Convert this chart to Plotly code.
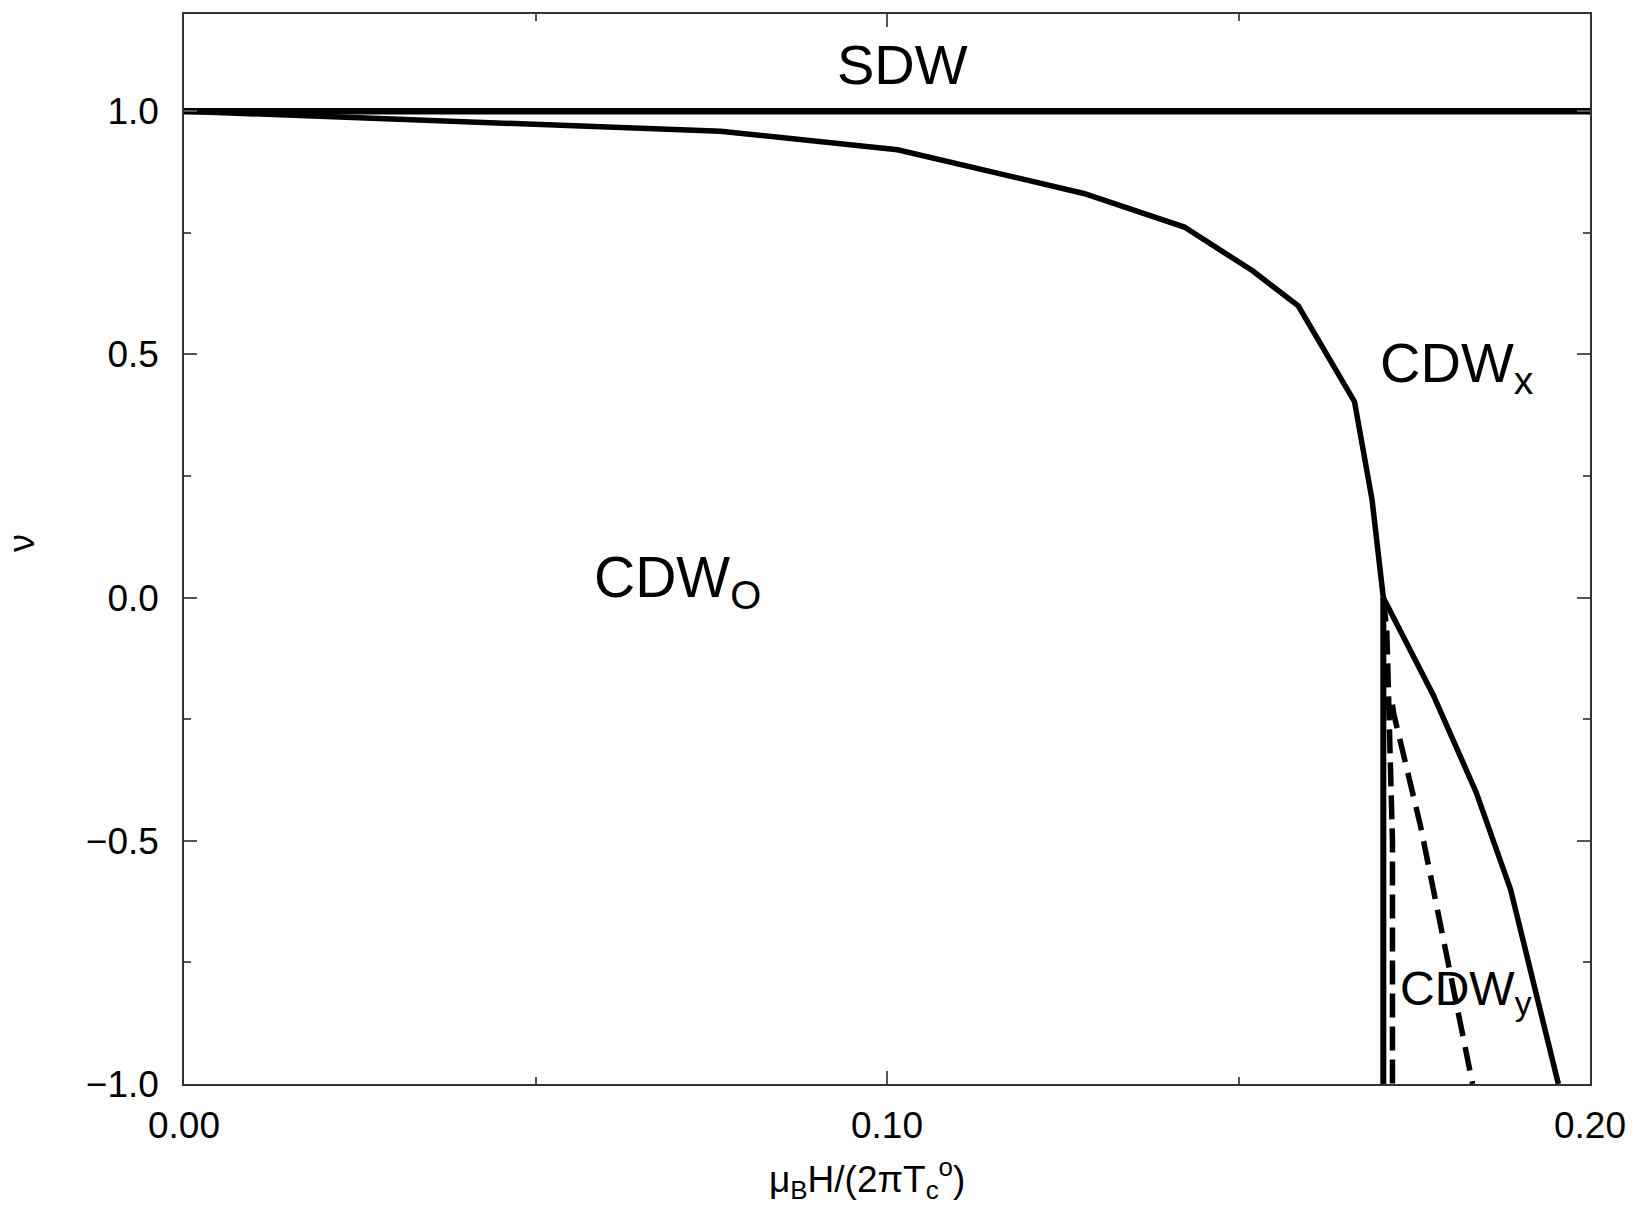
import plotly.graph_objects as go

# Phase boundary CDW_O / SDW-CDW_x (upper solid curve)
upper_x = [0.0, 0.0763, 0.1015, 0.128, 0.1423, 0.152, 0.1585, 0.1665, 0.169, 0.1706]
upper_y = [1.0, 0.959, 0.921, 0.831, 0.762, 0.672, 0.600, 0.403, 0.201, 0.0]

# Lower solid curve
lower_x = [0.1706, 0.1777, 0.1838, 0.1887, 0.1955]
lower_y = [0.0, -0.2, -0.4, -0.6, -1.0]

# Vertical solid boundary
vert_x = [0.1706, 0.1706]
vert_y = [0.0, -1.0]

# SDW boundary
sdw_x = [0.0, 0.20]
sdw_y = [1.0, 1.0]

# Dashed lines
dash1_x = [0.1706, 0.1711, 0.1719, 0.1719]
dash1_y = [0.0, -0.07, -0.5, -1.0]
dash2_x = [0.1719, 0.1721, 0.1759, 0.1833]
dash2_y = [-0.22, -0.24, -0.47, -1.0]

x_ticks = [0.0, 0.10, 0.20]
x_ticktext = ["0.00", "0.10", "0.20"]
y_ticks = [-1.0, -0.5, 0.0, 0.5, 1.0]
y_ticktext = ["\u22121.0", "\u22120.5", "0.0", "0.5", "1.0"]

FONT = "Liberation Sans, Arial, sans-serif"
BLACK = "#000000"

fig = go.Figure()
for xs, ys, w, d in [
    (sdw_x, sdw_y, 6.5, "solid"),
    (upper_x, upper_y, 5.5, "solid"),
    (lower_x, lower_y, 5.5, "solid"),
    (vert_x, vert_y, 6, "solid"),
    (dash1_x, dash1_y, 5.5, "24px,9px"),
    (dash2_x, dash2_y, 5.5, "24px,11px"),
]:
    fig.add_trace(go.Scatter(x=xs, y=ys, mode="lines",
                             line=dict(color=BLACK, width=w, dash=d),
                             showlegend=False, hoverinfo="skip"))

annos = [
    dict(x=0.1022, y=1.097, text="SDW", size=56, xanchor="center"),
    dict(x=0.0581, y=0.035, text="CDW<sub>O</sub>", size=57, xanchor="left"),
    dict(x=0.1699, y=0.475, text="CDW<sub>x</sub>", size=56, xanchor="left"),
    dict(x=0.1727, y=-0.81, text="CDW<sub>y</sub>", size=48, xanchor="left"),
]
for a in annos:
    fig.add_annotation(x=a["x"], y=a["y"], xref="x", yref="y", text=a["text"],
                       showarrow=False, xanchor=a["xanchor"], yanchor="middle",
                       font=dict(family=FONT, size=a["size"], color=BLACK))

# y-axis title (nu)
fig.add_annotation(x=-0.1157, y=0.113, xref="paper", yref="y", text="ν",
                   showarrow=False, textangle=-90, xanchor="center", yanchor="middle",
                   font=dict(family=FONT, size=36, color=BLACK))

# x-axis title
fig.add_annotation(x=0.4855, y=-0.088, xref="paper", yref="paper",
                   text="μ<sub>B</sub>H/(2πT<sub>c</sub><sup>o</sup>)",
                   showarrow=False, xanchor="center", yanchor="middle",
                   font=dict(family=FONT, size=37, color=BLACK))

axis_common = dict(
    showline=True, linecolor="#333333", linewidth=1.5, mirror="ticks",
    ticks="inside", ticklen=13, tickwidth=1.5, tickcolor="#555555",
    showgrid=False, zeroline=False,
    tickfont=dict(family=FONT, size=37, color=BLACK),
)

fig.update_xaxes(range=[0, 0.20], tickvals=x_ticks, ticktext=x_ticktext,
                 minor=dict(dtick=0.05, ticklen=7, ticks="inside", tickcolor="#555555", tickwidth=1.5),
                 ticklabelstandoff=8,
                 **axis_common)
fig.update_yaxes(range=[-1.0, 1.2], tickvals=y_ticks, ticktext=y_ticktext,
                 minor=dict(dtick=0.25, ticklen=7, ticks="inside", tickcolor="#555555", tickwidth=1.5),
                 ticklabelstandoff=16,
                 **axis_common)

fig.update_layout(
    width=1638, height=1209,
    margin=dict(l=184, r=45, t=12, b=125),
    plot_bgcolor="white", paper_bgcolor="white",
    font=dict(family=FONT, color=BLACK),
)

fig.write_html("out.html", config={"displayModeBar": False},
               post_script="document.body.style.margin='0';document.body.style.overflow='hidden';")
